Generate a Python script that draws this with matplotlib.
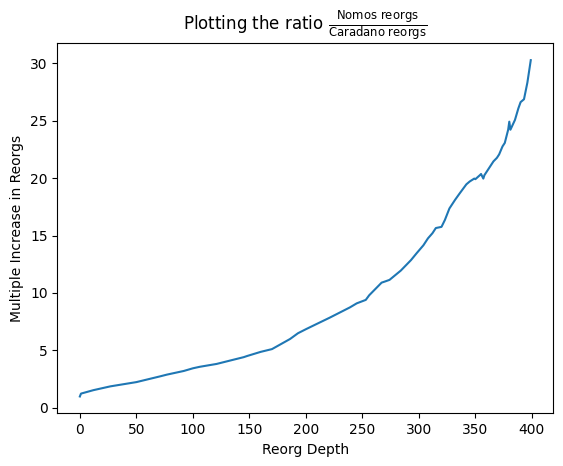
import matplotlib
matplotlib.use("Agg")
import matplotlib.pyplot as plt

reorg_depth = [0, 1, 12, 27, 50, 71, 77, 92, 100, 106, 121, 136, 145, 148, 160, 170,
               176, 186, 193, 200, 209, 221, 230, 239, 245, 253, 256, 262, 267, 270,
               274, 284, 293, 298, 304, 308, 312, 315, 320, 323, 327, 332, 336, 342,
               345, 349, 350, 354, 355, 357, 358, 363, 366, 369, 371, 374, 376, 379,
               380, 381, 385, 388, 390, 393, 396, 399]
ratio = [1.0, 1.25, 1.55, 1.88, 2.25, 2.75, 2.9, 3.22, 3.45, 3.58, 3.83, 4.2, 4.42, 4.52,
         4.88, 5.12, 5.45, 6.0, 6.5, 6.85, 7.28, 7.85, 8.3, 8.75, 9.1, 9.4, 9.8,
         10.4, 10.9, 11.0, 11.14, 11.95, 12.86, 13.46, 14.15, 14.75, 15.2, 15.65,
         15.75, 16.35, 17.35, 18.1, 18.65, 19.45, 19.7, 19.95, 19.9, 20.25, 20.35,
         19.95, 20.25, 21.0, 21.45, 21.75, 22.05, 22.75, 23.05, 24.2, 24.9, 24.2,
         25.05, 26.05, 26.6, 26.85, 28.3, 30.25]

fig = plt.figure(figsize=(5.63, 4.66), dpi=100)
ax = fig.add_axes([0.1018, 0.1131, 0.881, 0.7939])
ax.plot(reorg_depth, ratio)
ax.set_title(r'Plotting the ratio $\frac{\mathrm{Nomos\ reorgs}}{\mathrm{Caradano\ reorgs}}$')
ax.set_xlabel('Reorg Depth')
ax.set_ylabel('Multiple Increase in Reorgs')
fig.savefig('out.png', dpi=100)
